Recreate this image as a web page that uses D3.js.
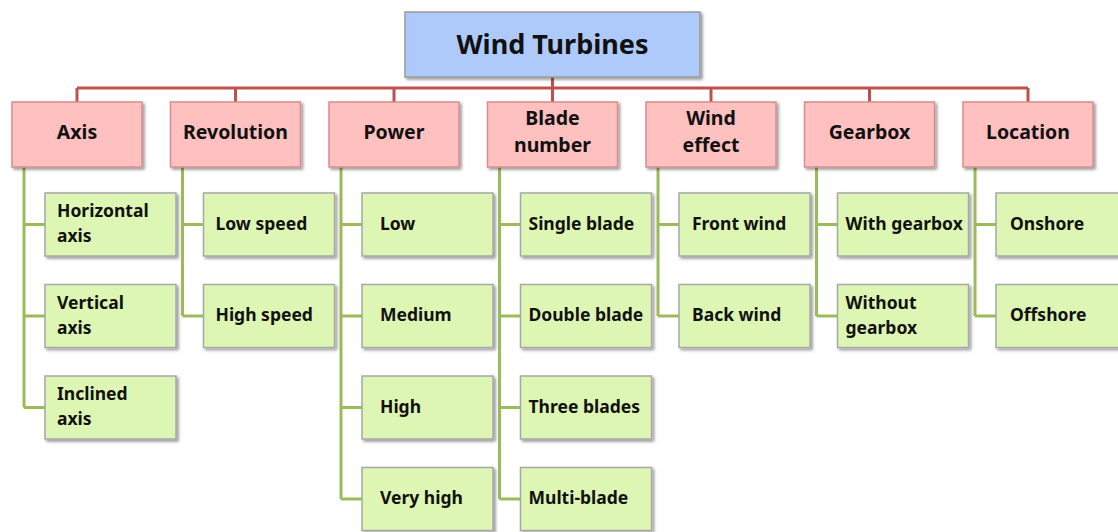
<!DOCTYPE html>
<meta charset="utf-8">
<style>
    body { margin: 0; background: #fff; }
    .label { font-family: "Noto Sans", "Open Sans", sans-serif; font-weight: bold; fill: #111; }
</style>
<body>
<svg width="1118" height="532"></svg>
<script src="https://cdn.jsdelivr.net/npm/d3@7"></script>
<script>

    var rootLabel = "Wind Turbines";

    var categories = ["Axis", "Revolution", "Power", "Blade number", "Wind effect", "Gearbox", "Location"];

    var children = [
        ["Horizontal axis", "Vertical axis", "Inclined axis"],
        ["Low speed", "High speed"],
        ["Low", "Medium", "High", "Very high"],
        ["Single blade", "Double blade", "Three blades", "Multi-blade"],
        ["Front wind", "Back wind"],
        ["With gearbox", "Without gearbox"],
        ["Onshore", "Offshore"]
    ];

    // how labels wrap onto lines in the boxes
    var categoryLines = [["Axis"], ["Revolution"], ["Power"], ["Blade", "number"], ["Wind", "effect"], ["Gearbox"], ["Location"]];
    var childLines = [
        [["Horizontal", "axis"], ["Vertical", "axis"], ["Inclined", "axis"]],
        [["Low speed"], ["High speed"]],
        [["Low"], ["Medium"], ["High"], ["Very high"]],
        [["Single blade"], ["Double blade"], ["Three blades"], ["Multi-blade"]],
        [["Front wind"], ["Back wind"]],
        [["With gearbox"], ["Without", "gearbox"]],
        [["Onshore"], ["Offshore"]]
    ];

    // left padding of the labels inside each column's child boxes
    var childTextPad = [12, 12, 18, 8, 13, 8, 14];

    var svg = d3.select("svg");

    var defs = svg.append("defs");
    defs.append("filter")
        .attr("id", "shadow")
        .attr("x", "-10%").attr("y", "-10%")
        .attr("width", "130%").attr("height", "140%")
        .append("feDropShadow")
        .attr("dx", 2).attr("dy", 2)
        .attr("stdDeviation", 1.5)
        .attr("flood-color", "#000")
        .attr("flood-opacity", 0.4);

    var x = d3.scaleBand()
        .domain(categories)
        .range([12, 1093])
        .paddingInner(0.18)
        .paddingOuter(0);

    var rowY = d3.scaleLinear()
        .domain([0, 1])
        .range([193, 284.5]);

    var root = { x: 405, y: 12, w: 295, h: 65 };
    var catTop = 102, catH = 65, busY = 88;
    var childOffset = 33, childW = 131, childH = 63, trunkOffset = 12;

    // red connectors
    var red = svg.append("g")
        .attr("fill", "none")
        .attr("stroke", "#c0504d")
        .attr("stroke-width", 3);

    red.append("line")
        .attr("x1", x(categories[0]) + x.bandwidth() / 2)
        .attr("x2", x(categories[categories.length - 1]) + x.bandwidth() / 2)
        .attr("y1", busY).attr("y2", busY);

    red.append("line")
        .attr("x1", root.x + root.w / 2).attr("x2", root.x + root.w / 2)
        .attr("y1", root.y + root.h).attr("y2", busY);

    red.selectAll(".drop")
        .data(categories)
        .enter().append("line")
        .attr("x1", function (d) { return x(d) + x.bandwidth() / 2; })
        .attr("x2", function (d) { return x(d) + x.bandwidth() / 2; })
        .attr("y1", busY).attr("y2", catTop);

    // green connectors
    var green = svg.append("g")
        .attr("fill", "none")
        .attr("stroke", "#9bbb59")
        .attr("stroke-width", 3)
        .attr("stroke-linejoin", "round");

    categories.forEach(function (c, i) {
        var tx = x(c) + trunkOffset;
        var last = children[i].length - 1;
        green.append("line")
            .attr("x1", tx).attr("x2", tx)
            .attr("y1", catTop + catH)
            .attr("y2", rowY(last) + childH / 2);
        children[i].forEach(function (k, j) {
            green.append("line")
                .attr("x1", tx).attr("x2", x(c) + childOffset)
                .attr("y1", rowY(j) + childH / 2)
                .attr("y2", rowY(j) + childH / 2);
        });
    });

    function addLines(g, lines, cx, cy, anchor, size, gap) {
        var t = g.append("text")
            .attr("class", "label")
            .attr("font-size", size)
            .attr("text-anchor", anchor);
        lines.forEach(function (l, k) {
            t.append("tspan")
                .attr("x", cx)
                .attr("y", cy + (k - (lines.length - 1) / 2) * gap)
                .attr("dy", "0.35em")
                .text(l);
        });
    }

    // root box
    var rg = svg.append("g");
    rg.append("rect")
        .attr("x", root.x).attr("y", root.y)
        .attr("width", root.w).attr("height", root.h)
        .attr("fill", "#aecafb")
        .attr("stroke", "#9a9a9a")
        .attr("stroke-width", 1.5)
        .attr("filter", "url(#shadow)");
    addLines(rg, [rootLabel], root.x + root.w / 2, root.y + 33, "middle", 27, 0);

    // category boxes
    var cg = svg.selectAll(".cat")
        .data(categories)
        .enter().append("g")
        .attr("class", "cat");

    cg.append("rect")
        .attr("x", function (d) { return x(d); })
        .attr("y", catTop)
        .attr("width", x.bandwidth())
        .attr("height", catH)
        .attr("fill", "#ffc0c0")
        .attr("stroke", "#d98c8c")
        .attr("stroke-width", 1.5)
        .attr("filter", "url(#shadow)");

    cg.each(function (d, i) {
        addLines(d3.select(this), categoryLines[i], x(d) + x.bandwidth() / 2, catTop + 30, "middle", 19.5, 27);
    });

    // child boxes
    categories.forEach(function (c, i) {
        var g = svg.append("g");
        g.selectAll("rect")
            .data(children[i])
            .enter().append("rect")
            .attr("x", x(c) + childOffset)
            .attr("y", function (d, j) { return rowY(j); })
            .attr("width", childW)
            .attr("height", childH)
            .attr("fill", "#def6b4")
            .attr("stroke", "#a8a8a8")
            .attr("stroke-width", 1.5)
            .attr("filter", "url(#shadow)");
        children[i].forEach(function (k, j) {
            addLines(g, childLines[i][j], x(c) + childOffset + childTextPad[i], rowY(j) + childH / 2 - 1, "start", 17.5, 25);
        });
    });

</script>
</body>
